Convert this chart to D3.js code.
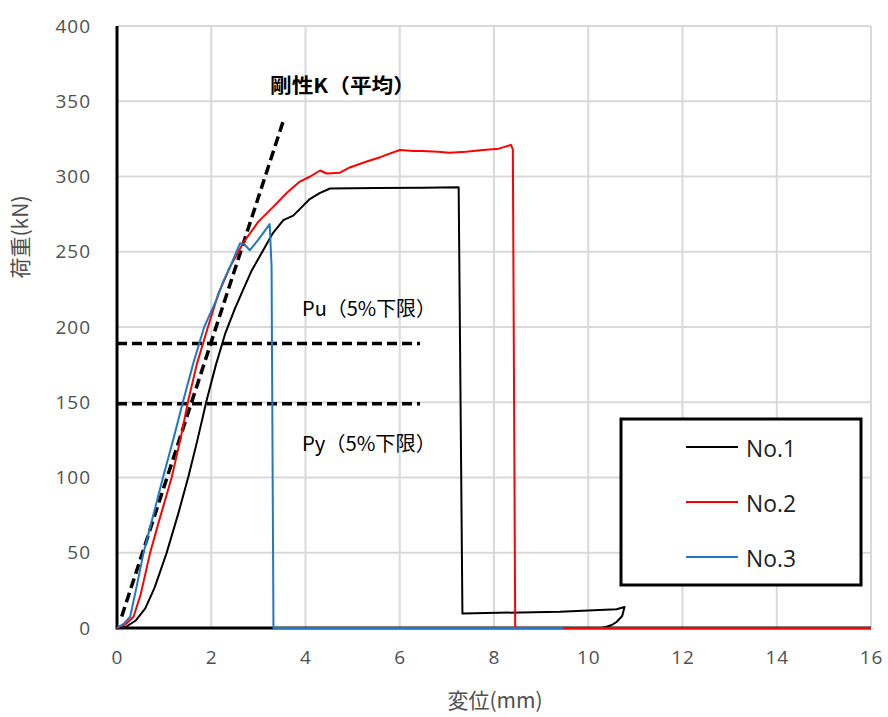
<!DOCTYPE html>
<html>
<head>
<meta charset="utf-8">
<script src="https://cdn.jsdelivr.net/npm/d3@7"></script>
<style>
  html, body { margin: 0; padding: 0; background: #fff; }
  svg { display: block; }
</style>
</head>
<body>
<svg id="chart" width="888" height="717"></svg>
<script>
// Load–displacement curves of the three specimens
const seriesNames = ["No.1", "No.2", "No.3"];
const seriesColors = ["#000000", "#ff0000", "#1f78c8"];

const no1X = [0, 0.2, 0.4, 0.6, 0.8, 1.05, 1.3, 1.51, 1.7, 1.9, 2.1, 2.3, 2.5, 2.68, 2.85, 3.03, 3.3, 3.53, 3.74, 3.9, 4.09, 4.3, 4.52, 5.5, 6.5, 7.25, 7.33, 9.4, 10.6, 10.77, 10.72, 10.6, 10.5, 10.39, 10.3, 16];
const no1Y = [0, 1, 5, 13, 27, 49.6, 76, 100, 124, 151, 175, 196, 212, 225, 237, 247, 262, 271, 274, 279, 285, 289, 292, 292.3, 292.6, 292.8, 9.7, 10.8, 12.5, 14, 8, 4, 2, 0.8, 0, 0];

const no2X = [0, 0.2, 0.35, 0.5, 0.7, 0.9, 1.16, 1.35, 1.51, 1.7, 1.93, 2.15, 2.4, 2.68, 3.0, 3.32, 3.6, 3.88, 4.1, 4.31, 4.45, 4.73, 4.94, 5.3, 5.6, 6.0, 6.3, 6.49, 6.8, 7.06, 7.4, 7.77, 8.1, 8.36, 8.4, 8.45, 16];
const no2Y = [0, 3, 7.5, 22, 49.6, 72, 100, 126, 151, 176, 200, 222, 240, 256, 270, 280, 289, 296.6, 300, 304, 302, 302.5, 306, 310, 313, 317.6, 317, 317, 316.5, 315.8, 316.5, 317.6, 318.5, 321, 318, 0, 0];

const no3X = [0, 0.15, 0.28, 0.42, 0.56, 0.77, 0.98, 1.2, 1.41, 1.62, 1.85, 2.11, 2.25, 2.4, 2.61, 2.7, 2.82, 3.0, 3.24, 3.28, 3.32, 9.46];
const no3Y = [0, 3, 7.5, 28, 49.6, 75, 100.5, 126, 151.5, 176, 200, 218, 230, 240, 255.6, 255, 251, 258, 268.4, 240, 0, 0];

// Average stiffness line and the 5% lower-bound load levels
const stiffX = [0.1, 3.55];
const stiffY = [7.6, 339];
const puLoad = 189;
const pyLoad = 149;
const limitXEnd = 6.43;

const xTicks = [0, 2, 4, 6, 8, 10, 12, 14, 16];
const yTicks = [0, 50, 100, 150, 200, 250, 300, 350, 400];

const svg = d3.select("#chart");
const plotLeft = 117, plotTop = 26, plotRight = 871, plotBottom = 628;

const x = d3.scaleLinear().domain([0, 16]).range([plotLeft, plotRight]);
const y = d3.scaleLinear().domain([0, 400]).range([plotBottom, plotTop]);

const tickFont = "'Open Sans', 'Noto Sans', sans-serif";
const cjkFont = "'Noto Sans CJK JP', sans-serif";
const grey = "#505050";

// grid
svg.append("g").selectAll("line").data(yTicks.filter(d => d > 0)).join("line")
  .attr("x1", plotLeft).attr("x2", plotRight)
  .attr("y1", d => y(d)).attr("y2", d => y(d))
  .attr("stroke", "#d9d9d9").attr("stroke-width", 2);
svg.append("g").selectAll("line").data(xTicks.filter(d => d > 0)).join("line")
  .attr("x1", d => x(d)).attr("x2", d => x(d))
  .attr("y1", plotTop).attr("y2", plotBottom)
  .attr("stroke", "#d9d9d9").attr("stroke-width", 2);

// axes
const yAxis = d3.axisLeft(y).tickValues(yTicks).tickSize(0).tickPadding(26);
const gy = svg.append("g").attr("transform", `translate(${plotLeft},0)`).call(yAxis);
gy.select(".domain").remove();
gy.selectAll("text").attr("font-family", tickFont).attr("font-size", 19)
  .attr("letter-spacing", 1).attr("fill", grey);

const xAxis = d3.axisBottom(x).tickValues(xTicks).tickSize(0).tickPadding(23);
const gx = svg.append("g").attr("transform", `translate(0,${plotBottom})`).call(xAxis);
gx.select(".domain").remove();
gx.selectAll("text").attr("font-family", tickFont).attr("font-size", 19)
  .attr("letter-spacing", 1).attr("fill", grey);

svg.append("line").attr("x1", plotLeft).attr("x2", plotRight).attr("y1", plotBottom).attr("y2", plotBottom)
  .attr("stroke", "#000").attr("stroke-width", 3);
svg.append("line").attr("x1", plotLeft).attr("x2", plotLeft).attr("y1", plotTop).attr("y2", plotBottom + 1.5)
  .attr("stroke", "#000").attr("stroke-width", 3);

// axis titles
svg.append("text").attr("transform", "translate(28,237) rotate(-90)")
  .attr("text-anchor", "middle").attr("font-family", cjkFont).attr("font-size", 21)
  .attr("fill", grey).text("荷重(kN)");
svg.append("text").attr("x", 495).attr("y", 708)
  .attr("text-anchor", "middle").attr("font-family", cjkFont).attr("font-size", 21)
  .attr("fill", grey).text("変位(mm)");

// reference lines
svg.append("line").attr("x1", x(stiffX[0])).attr("y1", y(stiffY[0]))
  .attr("x2", x(stiffX[1])).attr("y2", y(stiffY[1]))
  .attr("stroke", "#000").attr("stroke-width", 3.5).attr("stroke-dasharray", "10,5");
[puLoad, pyLoad].forEach(v => {
  svg.append("line").attr("x1", x(0)).attr("x2", x(limitXEnd))
    .attr("y1", y(v)).attr("y2", y(v))
    .attr("stroke", "#000").attr("stroke-width", 3.5).attr("stroke-dasharray", "10,5");
});

// curves
const line = d3.line().x(d => x(d[0])).y(d => y(d[1]));
const seriesData = [
  d3.zip(no1X, no1Y),
  d3.zip(no2X, no2Y),
  d3.zip(no3X, no3Y)
];
seriesData.forEach((pts, i) => {
  svg.append("path").datum(pts).attr("d", line)
    .attr("fill", "none").attr("stroke", seriesColors[i])
    .attr("stroke-width", 2).attr("stroke-linejoin", "round");
});

// annotations
const annot = (tx, ty, str, len, weight) => svg.append("text")
  .attr("x", tx).attr("y", ty).attr("font-family", cjkFont).attr("font-size", 20)
  .attr("font-weight", weight).attr("fill", "#000")
  .attr("textLength", len).attr("lengthAdjust", "spacingAndGlyphs").text(str);
annot(270, 93, "剛性K（平均）", 145, 700);
annot(302, 316, "Pu（5%下限）", 134, 400);
annot(302, 451, "Py（5%下限）", 134, 400);

// legend
svg.append("rect").attr("x", 621).attr("y", 419).attr("width", 240).attr("height", 166)
  .attr("fill", "#fff").attr("stroke", "#000").attr("stroke-width", 3);
seriesNames.forEach((name, i) => {
  const ly = 447 + i * 55;
  svg.append("line").attr("x1", 686).attr("x2", 738).attr("y1", ly).attr("y2", ly)
    .attr("stroke", seriesColors[i]).attr("stroke-width", 2);
  svg.append("text").attr("x", 746).attr("y", ly + 10)
    .attr("font-family", tickFont).attr("font-size", 24).attr("fill", "#222")
    .attr("textLength", 50).attr("lengthAdjust", "spacingAndGlyphs").text(name);
});
</script>
</body>
</html>
